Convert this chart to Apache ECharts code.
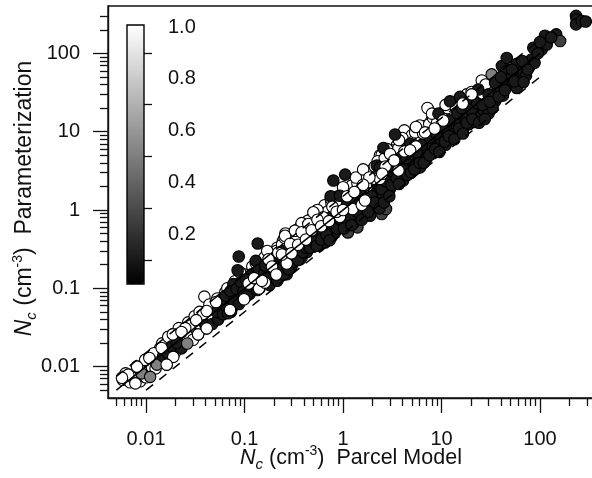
<!DOCTYPE html>
<html><head><meta charset="utf-8">
<script src="https://cdn.jsdelivr.net/npm/echarts@6/dist/echarts.min.js"></script>
<style>html,body{margin:0;background:#fff}#c{width:592px;height:478px}</style></head>
<body><div id="c"></div>
<script>
// [Parcel model Nc, Parameterization Nc]
const whiteUnder = [[.0058,.0068],[.0062,.0082],[.0069,.0063],[.0074,.0072],[.0081,.0100],[.0087,.0065],[.0094,.0075],[.0089,.0088],[.0100,.0073],[.0108,.0129],[.0115,.0098],[.0125,.0095],[.0139,.0172],[.0136,.0125],[.0152,.0115],[.0162,.0106],[.0175,.0215],[.0187,.0258],[.0196,.0150],[.0205,.0178],[.0229,.0277],[.0243,.0215],[.0268,.0367],[.0262,.0245],[.0285,.0335],[.0300,.0220],[.0323,.0392],[.0338,.0258],[.0355,.0345],[.0391,.0783],[.0413,.0308],[.0427,.0382],[.0413,.0513],[.0460,.0440],[.0514,.0668],[.0480,.0600],[.0560,.0600],[.0590,.0760],[.0640,.0900],[.0610,.0510],[.0700,.0830],[.0770,.1060],[.0740,.0640],[.0850,.1180],[.0900,.0920],[.0960,.1280],[.1040,.1120],[.1100,.1500],[.1180,.1300],[.1250,.1750],[.1350,.1480],[.1450,.2100],[.1520,.1700],[.1650,.2350],[.1750,.2000],[.1900,.2900],[.2000,.2300],[.2150,.3300],[.2300,.2800],[.2450,.4000],[.2680,.3200],[.2800,.4700],[.3000,.3600],[.3250,.5400],[.3500,.4300],[.3650,.6000],[.3900,.4700],[.4200,.6700],[.4500,.5400],[.4800,.7800],[.5100,.6300],[.5500,.8800],[.6000,.7200],[.6300,1.02],[.6800,.8300],[.7200,1.10],[.7800,.9300],[.8300,1.30],[.9000,1.05],[.9700,1.55],[1.05,1.22],[1.09,1.77],[1.20,1.45],[1.28,1.95],[1.36,1.82],[1.50,2.40],[1.60,1.75],[1.75,2.90],[1.81,2.27],[2.00,3.30],[2.15,2.60],[2.37,4.96],[2.47,5.07],[2.55,3.50],[2.80,4.10],[3.00,4.09],[3.24,5.20],[3.50,6.60],[3.80,5.00],[4.19,10.4],[4.40,7.60],[4.70,6.50],[5.00,9.00],[5.20,7.50],[5.80,10.0],[6.20,8.60],[6.80,11.8],[7.20,20.1],[7.90,13.9],[8.60,11.5],[9.50,15.5],[10.8,18.8],[12.0,17.0],[13.5,22.5],[15.0,24.0],[18.0,30.0],[20.2,32.2],[25.6,45.0],[28.0,40.0],
[.0066,.0079],[.0078,.0061],[.0098,.0122],[.0120,.0148],[.0128,.0112],[.0146,.0198],[.0158,.0135],[.0168,.0240],[.0215,.0310],[.0250,.0310],[.0312,.0440],[.0350,.0500],[.0380,.0460],[.0440,.0620],[.0530,.0740],[.0670,.1000],[.0800,.1230],[.1000,.1500],[.1200,.1900],[.1400,.1750],[.1600,.2500],[.1850,.2550],[.2100,.3000],[.2400,.3600],[.2550,.4400],[.2900,.4200],[.3200,.4700],[.3400,.5600],[.4000,.5900],[.4400,.7300],[.4700,.6300],[.5300,.9600],[.5800,.8200],[.6500,1.15],[.7000,.9600],[.7600,1.25],[.8500,1.12],[.8800,1.48],[.9500,1.30],[1.02,1.70],[1.15,1.58],[1.22,2.05],[1.40,2.20],[1.45,1.60],[1.65,2.65],[1.90,3.00],[2.10,3.60],[2.25,4.20],[2.65,4.60],[2.90,3.40],[3.10,5.80],[3.60,6.00],[4.00,8.30],[4.50,5.60],[5.40,9.80],[6.00,12.0],[6.50,9.50],[7.50,12.5],[8.20,15.0],[9.00,13.0],[10.2,15.0],[11.5,20.0],[14.0,20.0],
[.0900,.1600],[.1300,.2100],[.1700,.3000],[.2600,.5000],[.3800,.6800],[.5500,1.00],[.7500,1.40],[1.00,1.95],[1.35,2.60],[1.60,3.30],[2.80,6.00],[3.70,7.80],[5.50,11.5],[8.00,17.0],[11.0,22.0]];

// [Parcel model Nc, Parameterization Nc, activated ratio]
const darkPoints = [[.0090,.0082,.5],[.0110,.0074,.5],[.0129,.0106,.5],[.0149,.0135,.1],[.0165,.0150,.1],[.0182,.0181,.1],[.0229,.0171,.1],[.0205,.0200,.1],[.0262,.0197,.5],[.0400,.0340,.1],[.0470,.0350,.1],[.0540,.0400,.1],[.0520,.0500,.1],[.0610,.0655,.1],[.0605,.0465,.1],[.0660,.0570,.1],[.0700,.0760,.1],[.0730,.0500,.1],[.0770,.1130,.1],[.0834,.0761,.1],[.0873,.2550,.1],[.0851,.1700,.1],[.0810,.0620,.1],[.0920,.0860,.1],[.1000,.1050,.1],[.1085,.0970,.1],[.1000,.0760,.1],[.1180,.1510,.1],[.1130,.0850,.1],[.1300,.2240,.1],[.1360,.3740,.1],[.1300,.1150,.1],[.1420,.1000,.1],[.1500,.1350,.1],[.1650,.1250,.1],[.1750,.1620,.1],[.1890,.1590,.1],[.1950,.1300,.1],[.2150,.1850,.1],[.2250,.1450,.1],[.2400,.2150,.1],[.2680,.1510,.1],[.2600,.1900,.1],[.2900,.2700,.1],[.3110,.2590,.1],[.3000,.1900,.1],[.3660,.2350,.3],[.3400,.3000,.1],[.3950,.3330,.1],[.3800,.2500,.1],[.4400,.3800,.1],[.4300,.2900,.1],[.4800,.4400,.1],[.5000,.3400,.1],[.5410,.4600,.1],[.5700,.3500,.1],[.6560,.3850,.1],[.6200,.5300,.1],[.7000,.6000,.1],[.7500,1.50,.1],[.7970,2.38,.1],[.7600,.4500,.1],[.8300,.5200,.1],[.8600,.7000,.1],[.9300,1.52,.1],[.9500,.6500,.1],[1.05,2.83,.1],[1.00,.8000,.1],[1.09,1.03,.1],[1.12,.5170,.25],[1.15,.7200,.1],[1.25,.9000,.1],[1.40,.6000,.25],[1.30,.7000,.1],[1.49,.8450,.1],[1.45,1.20,.1],[1.65,1.00,.1],[1.88,.8450,.1],[1.75,1.30,.1],[2.00,1.10,.1],[2.20,1.69,.1],[2.47,.8880,.25],[2.73,1.03,.25],[2.30,1.30,.1],[2.77,1.95,.1],[2.50,1.60,.1],[3.00,1.85,.1],[2.20,3.70,.1],[2.57,6.20,.1],[2.37,3.50,.1],[2.80,2.70,.1],[3.37,9.20,.1],[3.37,2.38,.1],[3.30,3.00,.1],[4.07,2.38,.1],[3.80,2.90,.1],[3.90,4.50,.1],[4.60,3.50,.1],[4.30,3.00,.1],[4.80,7.00,.1],[5.10,4.20,.1],[5.40,3.60,.1],[6.05,3.50,.1],[5.80,4.70,.1],[6.50,5.50,.1],[7.00,4.50,.1],[7.20,6.00,.1],[7.90,7.00,.1],[8.20,5.30,.1],[9.00,6.50,.1],[9.30,17.0,.1],[10.0,7.40,.1],[10.2,9.50,.1],[11.0,6.80,.1],[11.7,10.9,.1],[12.2,24.5,.1],[12.5,8.00,.1],[13.2,9.40,.1],[14.0,12.5,.1],[15.4,27.8,.1],[15.5,9.80,.1],[17.4,14.7,.1],[17.0,11.5,.1],[19.5,25.3,.1],[19.0,12.5,.1],[21.0,25.7,.1],[21.9,13.3,.1],[22.8,17.4,.1],[23.6,34.6,.1],[25.0,15.5,.1],[27.0,18.5,.1],[28.8,23.4,.1],[30.0,17.0,.1],[32.3,53.9,.5],[34.9,24.5,.1],[33.0,20.0,.1],[36.0,32.0,.1],[39.3,36.2,.1],[41.0,69.0,.1],[42.0,29.0,.1],[45.9,87.5,.1],[45.9,59.5,.1],[47.0,42.0,.1],[49.6,47.8,.1],[53.0,41.0,.1],[58.0,73.5,.1],[58.0,51.0,.1],[58.0,36.2,.1],[63.0,47.0,.1],[67.5,59.5,.1],[72.0,52.0,.1],[79.0,69.0,.1],[82.0,83.6,.1],[88.0,76.0,.1],[85.4,118,.1],[104,112,.1],[112,168,.1],[117,130,.1],[146,175,.1],[160,144,.25],[232,301,.1],[235,272,.1],[232,235,.1],[265,259,.1],[291,255,.1],
[.0580,.0720,.1],[.0640,.0800,.1],[.0680,.0480,.1],[.0720,.0920,.1],[.0780,.0680,.1],[.0830,.0980,.1],[.0880,.0630,.1],[.0920,.1200,.1],[.0970,.0900,.1],[.1030,.1300,.1],[.1060,.0800,.1],[.1120,.1100,.1],[.1220,.1050,.1],[.1260,.1400,.1],[.1350,.0950,.1],[.1400,.1700,.1],[.1480,.1150,.1],[.1580,.1550,.1],[.1620,.1950,.1],[.1700,.1350,.1],[.1800,.1100,.1],[.1850,.2150,.1],[.2000,.1650,.1],[.2050,.2500,.1],[.2150,.1250,.1],[.2300,.2500,.1],[.2350,.1750,.1],[.2500,.1500,.1],[.2550,.3000,.1],[.2700,.2300,.1],[.2800,.1750,.1],[.3050,.3600,.1],[.3200,.2200,.1],[.3250,.3200,.1],[.3500,.2300,.1],[.3600,.4000,.1],[.3900,.2900,.1],[.4100,.4800,.1],[.4200,.3300,.1],[.4600,.3300,.1],[.4900,.5600,.1],[.5100,.3900,.1],[.5400,.3500,.1],[.5700,.6500,.1],[.6000,.4200,.1],[.6300,.6700,.1],[.6800,.4800,.1],[.7000,.7800,.1],[.7300,.4100,.1],[.7800,.6800,.1],[.8100,.8900,.1],[.8700,.5800,.1],[.9000,.9500,.1],[.9700,.7300,.1],[1.02,.5800,.1],[1.10,1.20,.1],[1.18,.8300,.1],[1.22,.6400,.1],[1.32,1.40,.1],[1.38,.9500,.1],[1.55,1.55,.1],[1.55,.7500,.1],[1.70,1.10,.1],[1.80,.9500,.1],[1.95,1.50,.1],[2.10,1.25,.1],[2.20,2.20,.1],[2.35,1.05,.1],[2.45,1.85,.1],[2.60,1.25,.1],[2.75,2.30,.1],[2.95,1.50,.1],[3.10,2.10,.1],[3.15,3.50,.1],[3.50,2.55,.1],[3.50,4.00,.1],[3.70,2.15,.1],[4.10,3.30,.1],[4.40,4.60,.1],[4.50,2.80,.1],[4.90,3.00,.1],[4.90,5.20,.1],[5.30,3.30,.1],[5.60,5.50,.1],[6.00,4.00,.1],[6.30,6.80,.1],[6.60,4.00,.1],[7.50,5.00,.1],[7.60,8.50,.1],[8.60,6.00,.1],[8.80,9.50,.1],[9.50,5.50,.1],[10.5,11.5,.1],[10.8,7.50,.1],[11.8,8.80,.1],[12.0,14.0,.1],[13.5,8.00,.1],[14.5,17.0,.1],[15.0,11.0,.1],[16.0,20.0,.1],[16.5,9.50,.1],[18.0,13.0,.1],[20.0,19.0,.1],[20.5,14.5,.1],[23.0,23.0,.1],[24.0,13.0,.1],[26.0,22.0,.1],[27.5,14.5,.1],[30.0,30.0,.1],[31.0,24.0,.1],[35.0,42.0,.1],[38.0,28.0,.1],[40.0,50.0,.1],[44.0,34.0,.1],[52.0,62.0,.1],[55.0,44.0,.1],[66.0,80.0,.1],[68.0,43.0,.1],[75.0,62.0,.1],[95,100,.1],[100,140,.1],[130,160,.1]];

// White markers drawn over the dark ones
const whiteTop = [[.0057,.0072],[.0081,.0100],[.0108,.0129],[.0144,.0173],[.0189,.0133],[.0162,.0106],[.0187,.0258],[.0229,.0277],[.0323,.0392],[.0338,.0258],[.0413,.0308],[.0413,.0513],[.0514,.0668],[.0712,.0528],[.0988,.0725],[.1400,.0992],[.1610,.1180],[.1750,.2350],[.2680,.2070],[.3250,.4250],[.2580,.4680],[.3250,.5430],[.4440,.6610],[.5000,.9340],[.6300,.8060],[.9300,.8200],[1.25,1.03],[1.55,1.16],[1.67,1.32],[2.11,2.50],[2.37,2.50],[3.65,3.20],[5.50,6.50],[10.4,13.9],[16.4,22.9],[20.2,30.0],
[.2200,.2850],[.2900,.3700],[.3800,.5200],[.5500,.7500],[.7800,1.10],[1.10,1.50],[1.30,1.70],[1.85,2.60],[2.70,3.60],[3.00,5.20],[4.20,5.60],[6.80,9.80],[8.50,11.0],
[.1100,.1150],[.1250,.1350],[.1500,.1250],[.1900,.1900],[.2100,.1500],[.2400,.2700],[.3000,.2800],[.3500,.3600],[.4200,.4200],[.4800,.5500],[.6000,.6200],[.7200,.7200],[.8600,.9500],[1.00,1.00],[1.60,2.10],[2.50,2.90],[3.30,4.30],[4.80,5.80]];

const oneToOne = [[.005,.005],[100,100]];
const upperBound = [[.005,.0075],[100,150]];
const lowerBound = [[.01,.005],[100,50]];

const xMajor = [.01,.1,1,10,100];
const xMinor = [.005,.006,.007,.008,.009,.02,.03,.04,.05,.06,.07,.08,.09,.2,.3,.4,.5,.6,.7,.8,.9,2,3,4,5,6,7,8,9,20,30,40,50,60,70,80,90,200,300];
const yMajor = [.01,.1,1,10,100];
const yMinor = [.005,.006,.007,.008,.009,.02,.03,.04,.05,.06,.07,.08,.09,.2,.3,.4,.5,.6,.7,.8,.9,2,3,4,5,6,7,8,9,20,30,40,50,60,70,80,90,200,300];
const barMajor = [.2,.4,.6,.8,1];
const barMinor = [.1,.3,.5,.7,.9];

const ink = '#111';
const FONT = '"Liberation Sans",Arial,sans-serif';
const xR = {min:.00411,max:353}, yR = {min:.00397,max:403};
const makeRich = size => ({
  n:{fontFamily:FONT,fontSize:size,fontStyle:'italic',color:ink,lineHeight:28},
  s:{fontFamily:FONT,fontSize:15,fontStyle:'italic',color:ink,verticalAlign:'bottom',lineHeight:16},
  t:{fontFamily:FONT,fontSize:size,color:ink,lineHeight:28},
  u:{fontFamily:FONT,fontSize:14,color:ink,verticalAlign:'top',lineHeight:14}
});
function logAxis(R,pos,major,minor,name,nameGap,rot,margin,size,pad){
  return [{type:'log',logBase:10,gridIndex:0,position:pos,min:R.min,max:R.max,
    axisLine:{show:true,onZero:false,lineStyle:{color:ink,width:1.4}},
    axisTick:{show:true,inside:false,length:15,customValues:major,lineStyle:{color:ink,width:1.3}},
    axisLabel:{show:true,customValues:major,margin:margin,fontSize:20,fontFamily:FONT,color:ink,formatter:v=>String(+(+v).toPrecision(3)),hideOverlap:false},
    splitLine:{show:false},minorTick:{show:false},
    name:name,nameLocation:'middle',nameGap:nameGap,nameRotate:rot,nameMoveOverlap:false,nameTextStyle:{rich:makeRich(size),padding:pad}},
  {type:'log',logBase:10,gridIndex:0,position:pos,min:R.min,max:R.max,
    axisLine:{show:false},axisTick:{show:true,length:8,customValues:minor,lineStyle:{color:ink,width:1.3}},
    axisLabel:{show:false},splitLine:{show:false}}];
}
const dot = d=>({type:'scatter',xAxisIndex:0,yAxisIndex:0,data:d,symbolSize:11.5,silent:true,
  itemStyle:{borderColor:'#000',borderWidth:1.1,opacity:1}});
const ref = (d,t)=>({type:'line',xAxisIndex:0,yAxisIndex:0,data:d,showSymbol:false,symbol:'none',silent:true,
  lineStyle:{color:'#000',width:1.5,type:t}});
const white = d=>({...dot(d),itemStyle:{color:'#fff',borderColor:'#000',borderWidth:1.1,opacity:1}});
const chart = echarts.init(document.getElementById('c'),null,{renderer:'canvas'});
chart.setOption({
  animation:false,backgroundColor:'#fff',
  grid:[{left:108,top:6,width:486,height:392,show:true,borderColor:ink,borderWidth:1.4,backgroundColor:'transparent',outerBoundsMode:'none'},
        {left:127,top:25,width:17,height:259,show:true,borderColor:'#000',borderWidth:1.4,backgroundColor:'transparent',z:5,outerBoundsMode:'none'}],
  xAxis:[...logAxis(xR,'bottom',xMajor,xMinor,'{n|N}{s|c}{t| (cm}{u|-3}{t|)  Parcel Model}',46,0,31,21.5,[0,0,0,0]),
    {type:'value',gridIndex:1,min:0,max:1,show:false}],
  yAxis:[...logAxis(yR,'left',yMajor,yMinor,'{n|N}{s|c}{t| (cm}{u|-3}{t|)  Parameterization}',69,90,28,23,[0,0,0,7]),
    {type:'value',gridIndex:1,position:'right',min:.007,max:1.008,
      axisLine:{show:false},axisTick:{show:true,length:15,customValues:barMajor,lineStyle:{color:ink,width:1.3}},
      axisLabel:{show:true,customValues:barMajor,margin:24,fontSize:20,fontFamily:FONT,color:ink,formatter:v=>(+v).toFixed(1)},splitLine:{show:false}},
    {type:'value',gridIndex:1,position:'right',min:.007,max:1.008,
      axisLine:{show:false},axisTick:{show:true,length:8,customValues:barMinor,lineStyle:{color:ink,width:1.3}},
      axisLabel:{show:false},splitLine:{show:false}}],
  visualMap:[{type:'continuous',min:0,max:1,dimension:2,seriesIndex:[4],left:127,top:25,itemWidth:17,itemHeight:259,padding:0,
    text:null,showLabel:false,calculable:false,hoverLink:false,inRange:{color:['#000','#fff']},textStyle:{fontSize:0},formatter:()=>''}],
  series:[ref(oneToOne,'solid'),ref(upperBound,[9,8]),ref(lowerBound,[9,8]),
    white(whiteUnder),dot(darkPoints),white(whiteTop)]
});
</script></body></html>
